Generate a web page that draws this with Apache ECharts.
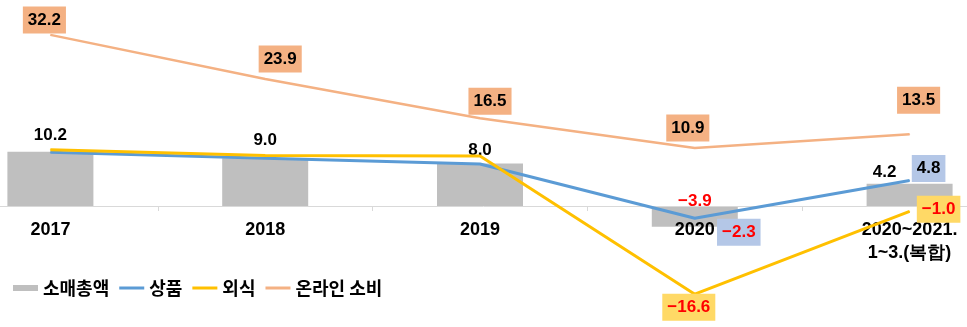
<!DOCTYPE html>
<html><head><meta charset="utf-8">
<script src="https://cdn.jsdelivr.net/npm/echarts@6/dist/echarts.min.js"></script>
<style>html,body{margin:0;padding:0;background:#fff}#c{width:967px;height:327px}</style>
</head><body><div id="c"></div>
<script>
const categories = ['2017', '2018', '2019', '2020', '2020~2021.\n1~3.(복합)'];
const seriesNames = ['소매총액', '상품', '외식', '온라인 소비'];
const retail = [10.2, 9.0, 8.0, -3.9, 4.2];
const goods = [10.1, 9.0, 7.9, -2.3, 4.8];
const dining = [10.6, 9.5, 9.4, -16.6, -1.0];
const online = [32.2, 23.9, 16.5, 10.9, 13.5];

const NUM_FONT = '"Liberation Sans", Arial, sans-serif';
const fmt = v => (v < 0 ? '\u2212' + Math.abs(v).toFixed(1) : v.toFixed(1));

function lbl(extra) {
  return Object.assign({
    show: true, fontFamily: NUM_FONT, fontSize: 17, fontWeight: 'bold',
    color: '#000', formatter: p => fmt(p.value)
  }, extra);
}
function boxed(bg, off, color) {
  return lbl({position: 'inside', offset: off, backgroundColor: bg,
    padding: [5, 5, 4, 5], lineHeight: 18, color: color || '#000'});
}

// label placement (not data)
const retailLbl = [
  lbl({position: 'top', offset: [0, -3]}),
  lbl({position: 'top', offset: [0, -4]}),
  lbl({position: 'top', offset: [0, 0]}),
  lbl({position: 'top', offset: [0, 9], color: '#ff0000'}),
  lbl({position: 'top', offset: [-25, 2]})
];
const goodsLbl = [null, null, null,
  boxed('#b4c7e7', [44, 14], '#ff0000'),
  boxed('#b4c7e7', [19, -12])];
const diningLbl = [null, null, null,
  boxed('#ffd966', [-6, 13], '#ff0000'),
  boxed('#ffd966', [29, -2], '#ff0000')];
const onlineLbl = [
  boxed('#f4b183', [-6, -15]),
  boxed('#f4b183', [15, -20]),
  boxed('#f4b183', [10, -17]),
  boxed('#f4b183', [-7, -20]),
  boxed('#f4b183', [9, -34])];

const mk = (vals, lbls) => vals.map((v, i) => lbls[i] ? {value: v, label: lbls[i]} : {value: v});

const lineIcon = 'path://M0,0L25,0L25,3L0,3Z';
const chart = echarts.init(document.getElementById('c'), null, {renderer: 'canvas'});
chart.setOption({
  animation: false,
  grid: {left: -57, width: 1074, top: 20, height: 186, containLabel: false, outerBoundsMode: 'none'},
  legend: {
    left: 8, top: 274, itemWidth: 25, itemHeight: 6, itemGap: 10, z: 5,
    textStyle: {fontFamily: '"Noto Sans CJK KR", sans-serif', fontSize: 18, fontWeight: 'bold', color: '#000'},
    data: [
      {name: seriesNames[0], icon: 'rect'},
      {name: seriesNames[1], icon: lineIcon},
      {name: seriesNames[2], icon: lineIcon},
      {name: seriesNames[3], icon: lineIcon}
    ]
  },
  xAxis: {
    type: 'category', data: categories, boundaryGap: true, z: 2,
    axisLine: {onZero: false, lineStyle: {color: '#d9d9d9', width: 1}},
    axisTick: {show: true, length: 5, lineStyle: {color: '#d9d9d9'}},
    axisLabel: {fontFamily: NUM_FONT, fontSize: 18, fontWeight: 'bold', color: '#000', margin: 13, lineHeight: 23, interval: 0}
  },
  yAxis: {type: 'value', show: false, min: 0, max: 35, splitLine: {show: false}},
  series: [
    {name: seriesNames[0], type: 'bar', z: 1, clip: false, barWidth: 86, itemStyle: {color: '#bfbfbf'}, data: mk(retail, retailLbl)},
    {name: seriesNames[1], type: 'line', z: 3, clip: false, symbol: 'circle', symbolSize: 1, itemStyle: {color: '#5b9bd5'},
      lineStyle: {color: '#5b9bd5', width: 3}, data: mk(goods, goodsLbl)},
    {name: seriesNames[2], type: 'line', z: 3, clip: false, symbol: 'circle', symbolSize: 1, itemStyle: {color: '#ffc000'},
      lineStyle: {color: '#ffc000', width: 3}, data: mk(dining, diningLbl)},
    {name: seriesNames[3], type: 'line', z: 3, clip: false, symbol: 'circle', symbolSize: 1, itemStyle: {color: '#f4b183'},
      lineStyle: {color: '#f4b183', width: 2.5}, data: mk(online, onlineLbl)}
  ]
});
</script></body></html>
